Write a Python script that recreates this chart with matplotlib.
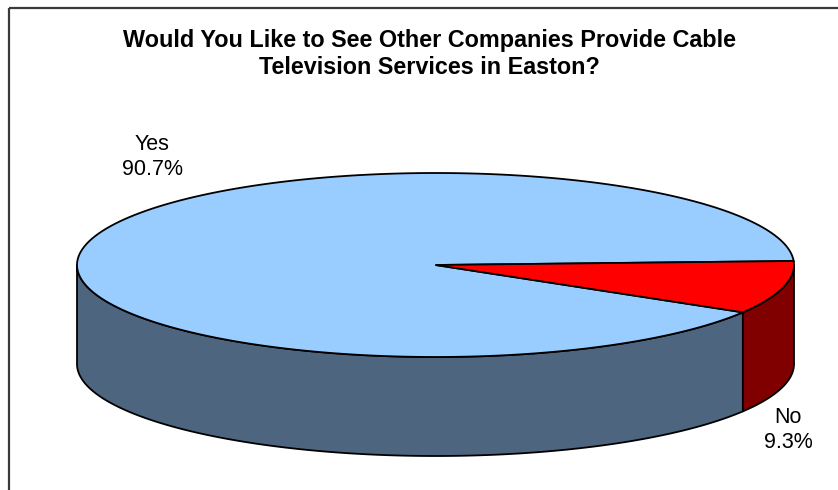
import numpy as np
import matplotlib
matplotlib.use("Agg")
import matplotlib.pyplot as plt
from matplotlib.patches import Polygon, Rectangle

plt.rcParams['font.family'] = ['Liberation Sans', 'DejaVu Sans']

title = "Would You Like to See Other Companies Provide Cable\nTelevision Services in Easton?"
categories = ["Yes", "No"]
shares = [90.7, 9.3]
top_colors = ["#99CCFF", "#FF0000"]
side_colors = ["#4E6580", "#800000"]

# pie geometry in pixel space
cx, cy = 435.5, 265.0
a, b = 358.5, 92.0
depth = 99.0
start = 2.5  # degrees, the No slice starts here and runs clockwise


def arc(t0, t1, dy=0.0, n=200):
    t = np.radians(np.linspace(t0, t1, n))
    return np.column_stack([cx + a*np.cos(t), cy - b*np.sin(t) + dy])


fig = plt.figure(figsize=(8.38, 4.90), dpi=100)
ax = fig.add_axes([0, 0, 1, 1])
ax.set_xlim(0, 838)
ax.set_ylim(490, 0)
ax.axis('off')

# chart frame (only the left and top edges show in the crop)
ax.add_patch(Rectangle((9, 8), 900, 600, fill=False, edgecolor='#3a3a3a', lw=1.6))

# slice angle ranges, counter-clockwise in degrees
no_begin = start - shares[1]/100*360
ranges = [(start, no_begin + 360), (no_begin, start)]

# sides: only the front half (180..360) is visible
for (t0, t1), col in zip(ranges, side_colors):
    if t0 < 0:
        t0, t1 = t0 + 360, t1 + 360
    lo, hi = max(t0, 180), min(t1, 360)
    if hi <= lo:
        continue
    top = arc(lo, hi)
    bot = arc(hi, lo, dy=depth)
    ax.add_patch(Polygon(np.vstack([top, bot]), closed=True, facecolor=col,
                         edgecolor='black', lw=1.3, joinstyle='round'))

# top wedges
for (t0, t1), col in zip(ranges, top_colors):
    pts = np.vstack([[cx, cy], arc(t0, t1)])
    ax.add_patch(Polygon(pts, closed=True, facecolor=col, edgecolor='black',
                         lw=1.3, joinstyle='miter'))

ax.text(429, 54, title, ha='center', va='center', fontsize=16.8,
        fontweight='bold', linespacing=1.25)

label_pos = [(152, 157), (788, 430)]
for cat, val, (lx, ly) in zip(categories, shares, label_pos):
    ax.text(lx, ly, f"{cat}\n{val}%", ha='center', va='center',
            fontsize=15.5, linespacing=1.25)

fig.savefig("out.png", dpi=100)
